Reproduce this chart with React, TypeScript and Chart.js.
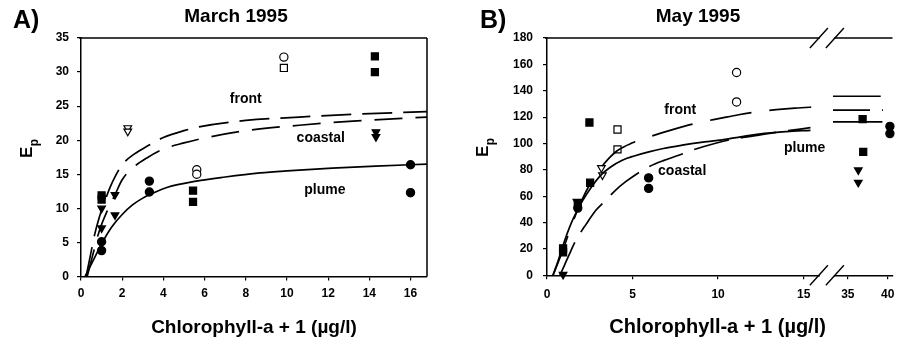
import React, { useEffect, useRef } from "react";
import { Chart, registerables } from "chart.js";

Chart.register(...registerables);

type Pt = { x: number; y: number };

const FONT = "'Liberation Sans', Arial, Helvetica, sans-serif";

// ---- March 1995: observations ----
const marchFilledSquares: Pt[] = [
  { x: 1.0, y: 11.9 }, { x: 1.0, y: 11.3 }, { x: 5.44, y: 12.6 }, { x: 5.44, y: 10.96 },
  { x: 14.27, y: 32.3 }, { x: 14.27, y: 30.0 },
];
const marchOpenSquares: Pt[] = [{ x: 9.85, y: 30.6 }];
const marchOpenCircles: Pt[] = [{ x: 9.85, y: 32.2 }, { x: 5.62, y: 15.66 }, { x: 5.62, y: 15.0 }];
const marchOpenTriangles: Pt[] = [{ x: 2.27, y: 21.8 }, { x: 2.27, y: 21.3 }];
const marchFilledTriangles: Pt[] = [
  { x: 1.0, y: 10.0 }, { x: 1.0, y: 7.1 }, { x: 1.65, y: 12.0 }, { x: 1.65, y: 9.0 },
  { x: 14.32, y: 21.2 }, { x: 14.32, y: 20.5 },
];
const marchFilledCircles: Pt[] = [
  { x: 1.0, y: 5.1 }, { x: 1.0, y: 3.8 }, { x: 3.32, y: 14.0 }, { x: 3.32, y: 12.4 },
  { x: 16.0, y: 16.4 }, { x: 16.0, y: 12.3 },
];

// ---- March 1995: fitted curves ----
const marchFront: Pt[] = [
  { x: 0.25, y: 0 }, { x: 0.45, y: 3.0 }, { x: 0.65, y: 6.0 }, { x: 0.9, y: 8.8 }, { x: 1.15, y: 11.0 },
  { x: 1.4, y: 13.0 }, { x: 1.7, y: 14.9 }, { x: 2.0, y: 16.4 }, { x: 2.6, y: 18.0 }, { x: 3.2, y: 19.1 },
  { x: 4.0, y: 20.4 }, { x: 5.0, y: 21.4 }, { x: 5.8, y: 22.0 }, { x: 8.0, y: 22.9 }, { x: 10.6, y: 23.4 },
  { x: 13.2, y: 23.8 }, { x: 16.8, y: 24.2 },
];
const marchCoastal: Pt[] = [
  { x: 0.3, y: 0 }, { x: 0.6, y: 3.5 }, { x: 0.9, y: 6.8 }, { x: 1.3, y: 9.8 }, { x: 1.65, y: 12.0 },
  { x: 2.0, y: 14.2 }, { x: 2.5, y: 15.9 }, { x: 3.2, y: 17.4 }, { x: 4.0, y: 18.7 }, { x: 5.0, y: 19.6 },
  { x: 5.8, y: 20.2 }, { x: 8.0, y: 21.4 }, { x: 10.6, y: 22.2 }, { x: 13.2, y: 22.8 }, { x: 16.8, y: 23.4 },
];
const marchPlume: Pt[] = [
  { x: 0.2, y: 0 }, { x: 0.6, y: 2.4 }, { x: 1.0, y: 4.8 }, { x: 1.5, y: 7.3 }, { x: 2.0, y: 9.1 },
  { x: 2.5, y: 10.5 }, { x: 3.0, y: 11.5 }, { x: 3.4, y: 12.1 }, { x: 4.2, y: 13.1 }, { x: 5.6, y: 14.0 },
  { x: 7.0, y: 14.6 }, { x: 8.7, y: 15.2 }, { x: 10.0, y: 15.5 }, { x: 12.2, y: 15.9 }, { x: 14.3, y: 16.2 },
  { x: 16.8, y: 16.5 },
];

// ---- May 1995: observations (low range 0-16, high range 32-41) ----
const mayFilledSquares: Pt[] = [
  { x: 2.48, y: 115.9 }, { x: 2.52, y: 70.2 }, { x: 1.8, y: 54.5 }, { x: 0.94, y: 20.5 }, { x: 0.94, y: 17.4 },
];
const mayFilledSquaresHigh: Pt[] = [{ x: 36.85, y: 118.4 }, { x: 36.93, y: 93.6 }];
const mayOpenSquares: Pt[] = [{ x: 4.12, y: 110.6 }, { x: 4.12, y: 95.5 }];
const mayOpenCircles: Pt[] = [{ x: 11.08, y: 153.8 }, { x: 11.08, y: 131.5 }];
const mayOpenTriangles: Pt[] = [{ x: 3.18, y: 81.5 }, { x: 3.24, y: 76 }];
const mayFilledCircles: Pt[] = [{ x: 5.94, y: 73.9 }, { x: 5.94, y: 65.9 }, { x: 1.8, y: 51 }];
const mayFilledCirclesHigh: Pt[] = [{ x: 40.27, y: 113 }, { x: 40.27, y: 107.5 }];
const mayFilledTriangles: Pt[] = [{ x: 0.94, y: 0.5 }, { x: 1.75, y: 56 }];
const mayFilledTrianglesHigh: Pt[] = [{ x: 36.31, y: 79.8 }, { x: 36.31, y: 70.4 }];

// ---- May 1995: fitted curves ----
const mayFront: Pt[] = [
  { x: 0.35, y: 0 }, { x: 0.6, y: 8 }, { x: 0.95, y: 20 }, { x: 1.5, y: 40 }, { x: 2.0, y: 56 },
  { x: 2.55, y: 70 }, { x: 3.15, y: 81.5 }, { x: 3.6, y: 88.5 }, { x: 4.1, y: 94.5 }, { x: 5.0, y: 100.5 },
  { x: 5.75, y: 104 }, { x: 6.7, y: 108 }, { x: 8.0, y: 113 }, { x: 9.0, y: 116.2 }, { x: 10.1, y: 119 },
  { x: 11.2, y: 121.8 }, { x: 12.3, y: 124 }, { x: 13.4, y: 125.6 }, { x: 14.5, y: 126.8 }, { x: 15.8, y: 127.8 },
];
const mayCoastal: Pt[] = [
  { x: 0.75, y: 0 }, { x: 1.0, y: 7 }, { x: 1.33, y: 16.7 }, { x: 1.7, y: 26.7 }, { x: 2.3, y: 39 },
  { x: 2.87, y: 49.5 }, { x: 3.44, y: 57 }, { x: 4.0, y: 64.5 }, { x: 4.6, y: 71 }, { x: 5.2, y: 76.5 },
  { x: 5.95, y: 82.3 }, { x: 6.8, y: 87 }, { x: 7.7, y: 91.1 }, { x: 8.7, y: 95.8 }, { x: 9.8, y: 100 },
  { x: 10.7, y: 102.8 }, { x: 11.7, y: 105 }, { x: 12.7, y: 107 }, { x: 13.6, y: 108.8 }, { x: 15.4, y: 112 },
];
const mayPlume: Pt[] = [
  { x: 0.35, y: 0 }, { x: 0.7, y: 13 }, { x: 1.05, y: 27 }, { x: 1.5, y: 42 }, { x: 2.1, y: 57 },
  { x: 2.6, y: 67 }, { x: 3.15, y: 76 }, { x: 3.7, y: 82 }, { x: 4.4, y: 87.3 }, { x: 5.1, y: 90.5 },
  { x: 5.95, y: 93.6 }, { x: 6.8, y: 96.2 }, { x: 7.9, y: 98.7 }, { x: 9.0, y: 100.8 }, { x: 10.1, y: 102.5 },
  { x: 11.4, y: 105.2 }, { x: 12.7, y: 107.6 }, { x: 14.0, y: 109 }, { x: 15.4, y: 110 },
];
const mayFrontHigh: Pt[] = [{ x: 33.14, y: 135.8 }, { x: 39.12, y: 135.8 }];
const mayCoastalHigh: Pt[] = [{ x: 33.14, y: 125.3 }, { x: 39.4, y: 125.3 }];
const mayPlumeHigh: Pt[] = [{ x: 33.14, y: 116.4 }, { x: 39.33, y: 116.4 }];

// ---- tick values ----
const marchTicksX = [0, 2, 4, 6, 8, 10, 12, 14, 16];
const marchTicksY = [0, 5, 10, 15, 20, 25, 30, 35];
const mayTicksXLow = [0, 5, 10, 15];
const mayTicksXHigh = [35, 40];
const mayTicksY = [0, 20, 40, 60, 80, 100, 120, 140, 160, 180];

const X_TITLE = "Chlorophyll-a + 1 (\u00b5g/l)";

type Shape = "rect" | "circle" | "tri";

const pointSet = (data: Pt[], shape: Shape, filled: boolean, xAxisID = "x") => ({
  type: "scatter" as const,
  data,
  xAxisID,
  yAxisID: "y",
  showLine: false,
  pointStyle: shape === "tri" ? "triangle" : shape,
  rotation: shape === "tri" ? 180 : 0,
  pointRadius: shape === "rect" ? 5 : shape === "tri" ? 4.4 : 4.1,
  backgroundColor: filled ? "#000" : "#fff",
  borderColor: "#000",
  borderWidth: 1.2,
  clip: false as const,
});

const curveSet = (data: Pt[], dash: number[], xAxisID = "x") => ({
  type: "line" as const,
  data,
  xAxisID,
  yAxisID: "y",
  borderColor: "#000",
  borderWidth: 1.7,
  borderDash: dash,
  pointRadius: 0,
  fill: false,
  cubicInterpolationMode: "monotone" as const,
});

const tickList = (values: number[]) => (scale: any) => {
  scale.ticks = values.map((value) => ({ value }));
};

const tickFont = { family: FONT, size: 12, weight: "bold" as const };
const gridOpts = { drawOnChartArea: false, drawTicks: true, tickLength: 4, color: "#000", lineWidth: 1.2 };
const borderOpts = { display: true, color: "#000", width: 1.5 };

type CurveLabel = { text: string; x: number; y: number };
type Decor = {
  letter: string;
  letterX: number;
  heading: string;
  headingX: number;
  epX: number;
  epY: number;
  rightFrame: boolean;
  axisBreak: boolean;
  labels: CurveLabel[];
};

// Panel letter, heading, frame, rotated E_p title, curve names and the axis break.
function makeDecor(d: Decor) {
  return {
    id: "decor",
    afterDraw(chart: any) {
      const { ctx, chartArea } = chart;
      const { left, right, top, bottom } = chartArea;
      ctx.save();
      ctx.fillStyle = "#000";
      ctx.strokeStyle = "#000";

      ctx.font = `bold 25px ${FONT}`;
      ctx.textAlign = "left";
      ctx.textBaseline = "alphabetic";
      ctx.fillText(d.letter, d.letterX, 28);

      ctx.font = `bold 19px ${FONT}`;
      ctx.textAlign = "center";
      ctx.fillText(d.heading, d.headingX, 22);

      ctx.lineWidth = 1.5;
      ctx.beginPath();
      ctx.moveTo(left - 2, top);
      ctx.lineTo(right, top);
      if (d.rightFrame) {
        ctx.moveTo(right, top);
        ctx.lineTo(right, bottom);
      }
      ctx.stroke();

      ctx.save();
      ctx.translate(d.epX, d.epY);
      ctx.rotate(-Math.PI / 2);
      ctx.textAlign = "left";
      ctx.textBaseline = "alphabetic";
      ctx.font = `bold 17px ${FONT}`;
      ctx.fillText("E", 0, 0);
      const w = ctx.measureText("E").width;
      ctx.font = `bold 12px ${FONT}`;
      ctx.fillText("p", w + 0.5, 6);
      ctx.restore();

      const xs = chart.scales.x;
      const ys = chart.scales.y;
      ctx.font = `bold 14px ${FONT}`;
      ctx.textAlign = "center";
      ctx.textBaseline = "middle";
      d.labels.forEach((l) => ctx.fillText(l.text, xs.getPixelForValue(l.x), ys.getPixelForValue(l.y)));

      if (d.axisBreak) {
        const bx = xs.right;
        for (const y of [top, bottom]) {
          ctx.fillStyle = "#fff";
          ctx.fillRect(bx - 6, y - 2.5, 14, 5);
          ctx.beginPath();
          for (const cx of [bx - 7, bx + 9]) {
            ctx.moveTo(cx - 9, y + 10);
            ctx.lineTo(cx + 9, y - 10);
          }
          ctx.lineWidth = 1.4;
          ctx.stroke();
        }
      }
      ctx.restore();
    },
  };
}

function marchConfig(): any {
  return {
    type: "scatter",
    data: {
      datasets: [
        curveSet(marchFront, [30, 11]),
        curveSet(marchCoastal, [28, 13]),
        curveSet(marchPlume, []),
        pointSet(marchFilledSquares, "rect", true),
        pointSet(marchOpenSquares, "rect", false),
        pointSet(marchOpenCircles, "circle", false),
        pointSet(marchOpenTriangles, "tri", false),
        pointSet(marchFilledTriangles, "tri", true),
        pointSet(marchFilledCircles, "circle", true),
      ],
    },
    options: {
      animation: false,
      responsive: false,
      events: [],
      layout: { padding: { left: 0, right: 23, top: 38, bottom: 0 } },
      plugins: { legend: { display: false }, tooltip: { enabled: false } },
      scales: {
        x: {
          type: "linear",
          min: 0,
          max: 16.8,
          afterBuildTicks: tickList(marchTicksX),
          afterFit: (s: any) => { s.height = 63.5; },
          grid: gridOpts,
          border: borderOpts,
          ticks: { color: "#000", font: tickFont, padding: 6, autoSkip: false, maxRotation: 0 },
          title: {
            display: true,
            text: X_TITLE,
            color: "#000",
            font: { family: FONT, size: 19, weight: "bold" },
            padding: { top: 0, bottom: 1 },
          },
        },
        y: {
          type: "linear",
          min: 0,
          max: 35,
          afterBuildTicks: tickList(marchTicksY),
          afterFit: (s: any) => { s.width = 81; },
          grid: gridOpts,
          border: borderOpts,
          ticks: { color: "#000", font: tickFont, padding: 8 },
        },
      },
    },
    plugins: [
      makeDecor({
        letter: "A)",
        letterX: 13,
        heading: "March 1995",
        headingX: 236,
        epX: 32,
        epY: 158,
        rightFrame: true,
        axisBreak: false,
        labels: [
          { text: "front", x: 8.0, y: 26.1 },
          { text: "coastal", x: 11.64, y: 20.3 },
          { text: "plume", x: 11.84, y: 12.6 },
        ],
      }),
    ],
  };
}

function mayConfig(): any {
  return {
    type: "scatter",
    data: {
      datasets: [
        curveSet(mayFront, [42, 18]),
        curveSet(mayCoastal, [36, 12]),
        curveSet(mayPlume, []),
        curveSet(mayFrontHigh, [], "x2"),
        curveSet(mayCoastalHigh, [37, 12], "x2"),
        curveSet(mayPlumeHigh, [], "x2"),
        pointSet(mayFilledSquares, "rect", true),
        pointSet(mayOpenSquares, "rect", false),
        pointSet(mayOpenCircles, "circle", false),
        pointSet(mayOpenTriangles, "tri", false),
        pointSet(mayFilledCircles, "circle", true),
        pointSet(mayFilledTriangles, "tri", true),
        pointSet(mayFilledSquaresHigh, "rect", true, "x2"),
        pointSet(mayFilledTrianglesHigh, "tri", true, "x2"),
        pointSet(mayFilledCirclesHigh, "circle", true, "x2"),
      ],
    },
    options: {
      animation: false,
      responsive: false,
      events: [],
      layout: { padding: { left: 0, right: 8, top: 38, bottom: 0 } },
      plugins: { legend: { display: false }, tooltip: { enabled: false } },
      scales: {
        x: {
          type: "linear",
          position: "bottom",
          stack: "chl",
          stackWeight: 282.5,
          min: 0,
          max: 16.3,
          afterBuildTicks: tickList(mayTicksXLow),
          afterFit: (s: any) => { s.height = 64.7; },
          grid: gridOpts,
          border: borderOpts,
          ticks: { color: "#000", font: tickFont, padding: 8, autoSkip: false, maxRotation: 0 },
          title: {
            display: true,
            text: X_TITLE,
            align: "end",
            color: "#000",
            font: { family: FONT, size: 20, weight: "bold" },
            padding: { top: 0, bottom: 1 },
          },
        },
        x2: {
          type: "linear",
          position: "bottom",
          stack: "chl",
          stackWeight: 67.5,
          min: 32.25,
          max: 40.6,
          afterBuildTicks: tickList(mayTicksXHigh),
          afterFit: (s: any) => { s.height = 64.7; },
          grid: gridOpts,
          border: borderOpts,
          ticks: { color: "#000", font: tickFont, padding: 8, autoSkip: false, maxRotation: 0 },
        },
        y: {
          type: "linear",
          min: 0,
          max: 180,
          afterBuildTicks: tickList(mayTicksY),
          afterFit: (s: any) => { s.width = 97; },
          grid: gridOpts,
          border: borderOpts,
          ticks: { color: "#000", font: tickFont, padding: 10 },
        },
      },
    },
    plugins: [
      makeDecor({
        letter: "B)",
        letterX: 30,
        heading: "May 1995",
        headingX: 248,
        epX: 38,
        epY: 157,
        rightFrame: false,
        axisBreak: true,
        labels: [
          { text: "front", x: 7.79, y: 125.2 },
          { text: "coastal", x: 7.9, y: 79.2 },
          { text: "plume", x: 15.06, y: 96.7 },
        ],
      }),
    ],
  };
}

function Panel({ makeConfig, left, width }: { makeConfig: () => any; left: number; width: number }) {
  const ref = useRef<HTMLCanvasElement>(null);
  useEffect(() => {
    if (!ref.current) return;
    const chart = new Chart(ref.current, makeConfig());
    return () => chart.destroy();
  }, [makeConfig]);
  return (
    <canvas
      ref={ref}
      width={width}
      height={340}
      style={{ position: "absolute", left, top: 0, width, height: 340, display: "block" }}
    />
  );
}

export default function App() {
  return (
    <div style={{ position: "absolute", left: 0, top: 0, width: 905, height: 340, background: "#fff", overflow: "hidden" }}>
      <Panel makeConfig={marchConfig} left={0} width={450} />
      <Panel makeConfig={mayConfig} left={450} width={455} />
    </div>
  );
}
